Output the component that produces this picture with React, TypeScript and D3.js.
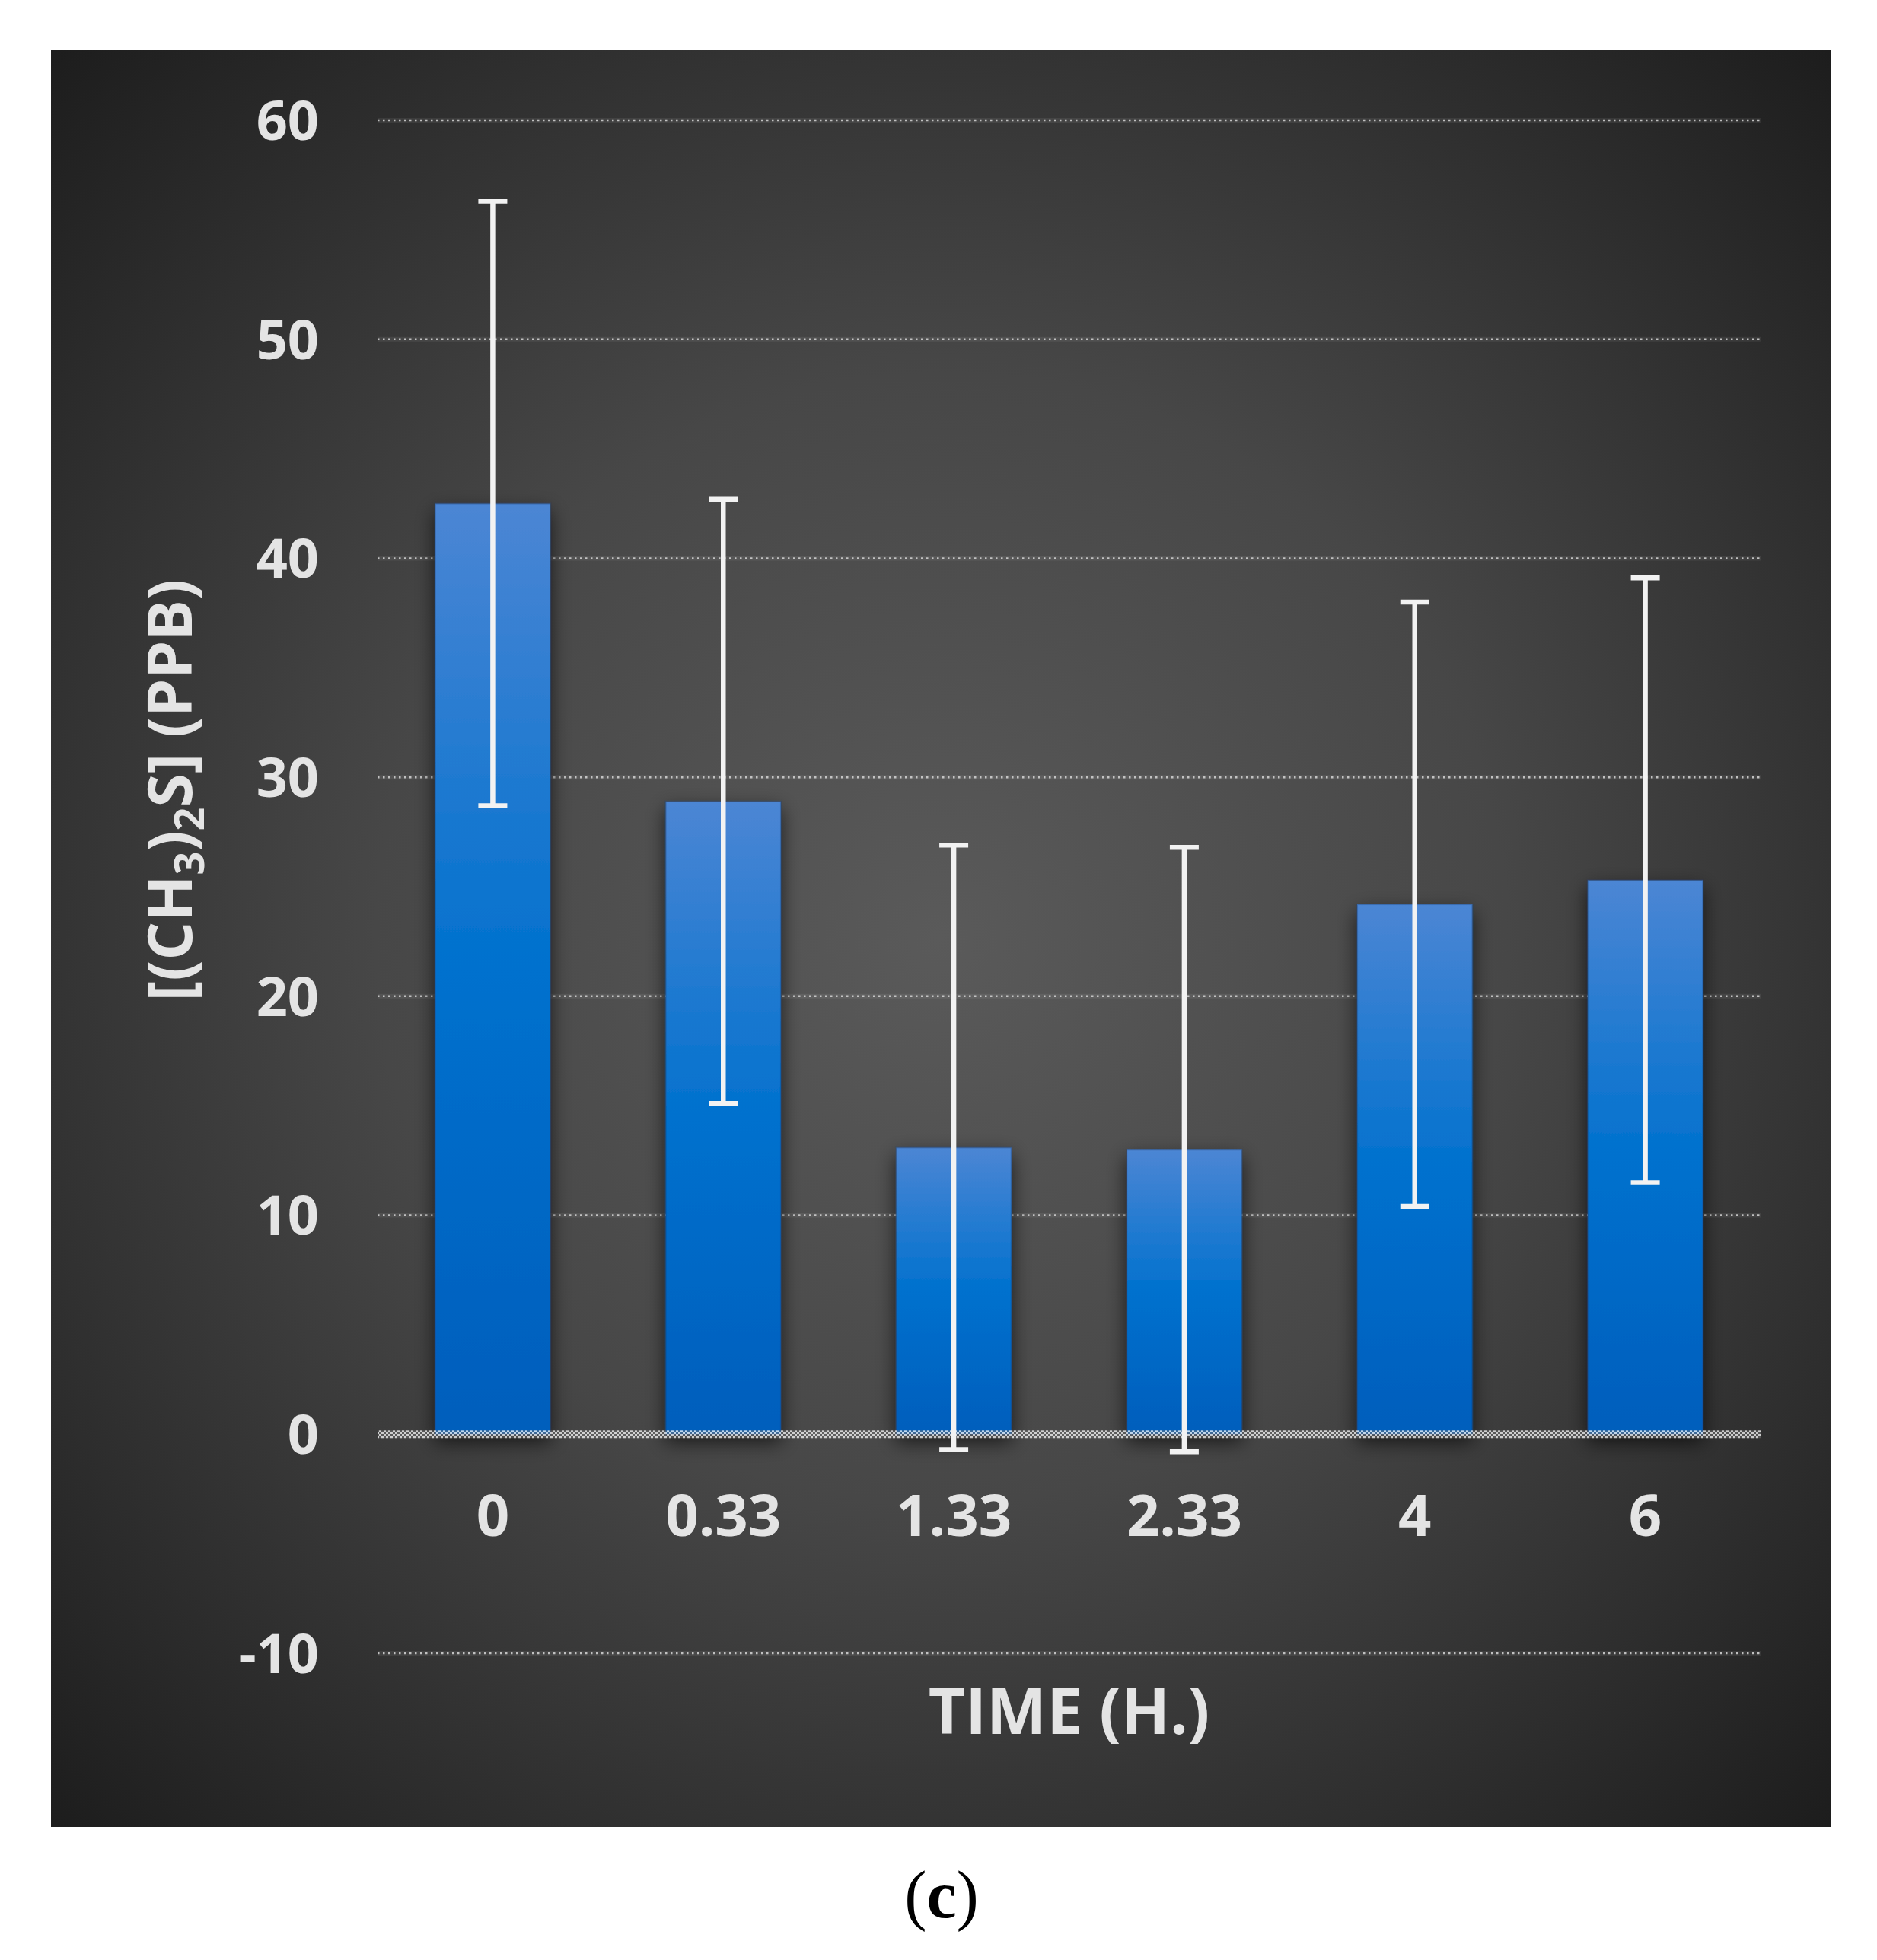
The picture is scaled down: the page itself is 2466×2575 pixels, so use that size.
import React from 'react'
import * as d3 from 'd3'

// time points (h) and DMS concentration (ppb)
const times = ['0', '0.33', '1.33', '2.33', '4', '6']
const means = [42.5, 28.9, 13.1, 13.0, 24.2, 25.3]
const errors = [13.8, 13.8, 13.8, 13.8, 13.8, 13.8]
const yTicks = [-10, 0, 10, 20, 30, 40, 50, 60]

const W = 2466
const H = 2575
const panel = { x: 67, y: 66, w: 2338, h: 2334 }
const plot = { left: 496, right: 2313, top: 158, bottom: 2172 }
const font = '"Open Sans", "Noto Sans", sans-serif'
const textFill = '#e4e4e4'

export default function App() {
  const x = d3
    .scaleBand()
    .domain(times)
    .range([plot.left, plot.right])
    .paddingInner(0.5)
    .paddingOuter(0.25)

  const y = d3.scaleLinear().domain([-10, 60]).range([plot.bottom, plot.top])

  const capW = 38

  return (
    <svg
      width={W}
      height={H}
      style={{ position: 'absolute', left: 0, top: 0, background: '#fff' }}
    >
      <defs>
        <radialGradient
          id="bg"
          gradientUnits="userSpaceOnUse"
          cx={panel.x + panel.w / 2}
          cy={panel.y + panel.h / 2}
          r={1650}
        >
          <stop offset="0" stopColor="#5a5a5a" />
          <stop offset="0.45" stopColor="#474747" />
          <stop offset="1" stopColor="#1d1d1d" />
        </radialGradient>
        <linearGradient id="bar" x1="0" y1="0" x2="0" y2="1">
          <stop offset="0" stopColor="#4c86d4" />
          <stop offset="0.5" stopColor="#0071ce" />
          <stop offset="1" stopColor="#005ebc" />
        </linearGradient>
        <filter id="shadow" x="-30%" y="-10%" width="160%" height="130%">
          <feDropShadow dx="0" dy="10" stdDeviation="13" floodColor="#000" floodOpacity="0.65" />
        </filter>
        <pattern id="checker" width="6" height="6" patternUnits="userSpaceOnUse">
          <rect width="3" height="3" fill="rgba(255,255,255,0.75)" />
          <rect x="3" y="3" width="3" height="3" fill="rgba(255,255,255,0.75)" />
          <rect x="3" width="3" height="3" fill="rgba(120,120,120,0.5)" />
          <rect y="3" width="3" height="3" fill="rgba(120,120,120,0.5)" />
        </pattern>
      </defs>

      <rect x={panel.x} y={panel.y} width={panel.w} height={panel.h} fill="url(#bg)" />

      {/* gridlines */}
      {yTicks
        .filter((t) => t !== 0)
        .map((t) => (
          <g key={t}>
            <line
              x1={plot.left}
              x2={plot.right}
              y1={y(t)}
              y2={y(t)}
              stroke="rgba(255,255,255,0.07)"
              strokeWidth={6}
            />
            <line
              x1={plot.left}
              x2={plot.right}
              y1={y(t)}
              y2={y(t)}
              stroke="#cfcfcf"
              strokeWidth={2.5}
              strokeDasharray="2.5 4.5"
              opacity={0.9}
            />
          </g>
        ))}

      {/* y tick labels */}
      {yTicks.map((t) => (
        <text
          key={t}
          x={419}
          y={y(t)}
          dy="0.36em"
          textAnchor="end"
          fontFamily={font}
          fontWeight={700}
          fontSize={72}
          fill={textFill}
        >
          {t}
        </text>
      ))}

      {/* bars */}
      {times.map((t, i) => (
        <rect
          key={t}
          x={x(t)}
          y={y(means[i])}
          width={x.bandwidth()}
          height={y(0) - y(means[i])}
          fill="url(#bar)"
          stroke="rgba(30,60,110,0.35)"
          strokeWidth={2}
          filter="url(#shadow)"
        />
      ))}

      {/* zero line */}
      <rect
        x={plot.left}
        y={y(0) - 5}
        width={plot.right - plot.left}
        height={10}
        fill="url(#checker)"
      />

      {/* error bars */}
      {times.map((t, i) => {
        const cx = (x(t) || 0) + x.bandwidth() / 2
        const hi = y(means[i] + errors[i])
        const lo = y(means[i] - errors[i])
        return (
          <g key={t} stroke="#f2f2f2" strokeWidth={6.5}>
            <line x1={cx} x2={cx} y1={hi} y2={lo} />
            <line x1={cx - capW / 2} x2={cx + capW / 2} y1={hi} y2={hi} />
            <line x1={cx - capW / 2} x2={cx + capW / 2} y1={lo} y2={lo} />
          </g>
        )
      })}

      {/* x tick labels */}
      {times.map((t) => (
        <text
          key={t}
          x={(x(t) || 0) + x.bandwidth() / 2}
          y={1991}
          dy="0.36em"
          textAnchor="middle"
          fontFamily={font}
          fontWeight={700}
          fontSize={76}
          fill={textFill}
        >
          {t}
        </text>
      ))}

      {/* axis titles */}
      <text
        x={(plot.left + plot.right) / 2}
        y={2278}
        textAnchor="middle"
        fontFamily={font}
        fontWeight={700}
        fontSize={84}
        fill={textFill}
      >
        TIME (H.)
      </text>

      <text
        transform="translate(252,1038) rotate(-90)"
        textAnchor="middle"
        fontFamily={font}
        fontWeight={700}
        fontSize={80}
        fill={textFill}
      >
        [(CH
        <tspan fontSize={54} dy={16}>3</tspan>
        <tspan dy={-16}>)</tspan>
        <tspan fontSize={54} dy={16}>2</tspan>
        <tspan dy={-16}>S] (PPB)</tspan>
      </text>

      {/* panel caption */}
      <text
        x={1237}
        y={2519}
        textAnchor="middle"
        fontFamily='"Liberation Serif", "DejaVu Serif", serif'
        fontSize={88}
        fill="#000"
      >
        (<tspan fontWeight={700}>c</tspan>)
      </text>
    </svg>
  )
}
